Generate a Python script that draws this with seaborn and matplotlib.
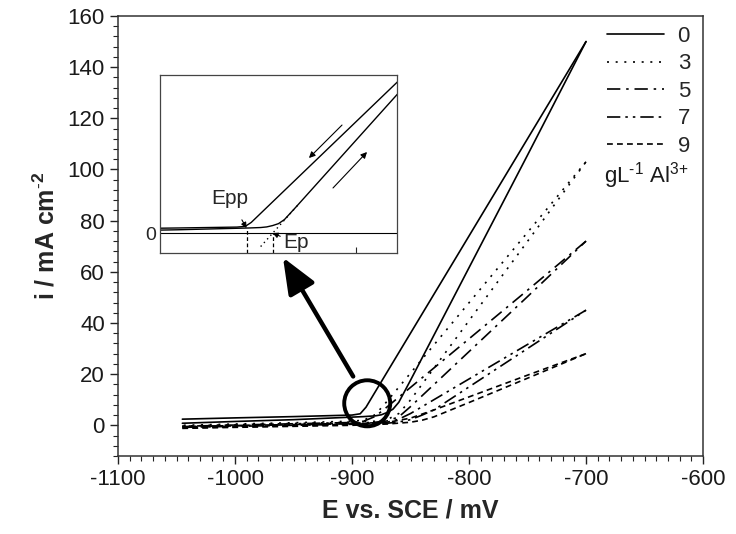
import numpy as np
import matplotlib
matplotlib.use("Agg")
import matplotlib.pyplot as plt
from matplotlib.patches import Ellipse
from matplotlib.lines import Line2D
from matplotlib.ticker import MultipleLocator
import seaborn as sns

sns.set_theme(style="white")
plt.rcParams["font.family"] = ["Liberation Sans", "DejaVu Sans"]
plt.rcParams["mathtext.fontset"] = "custom"
plt.rcParams["mathtext.rm"] = "Liberation Sans"
plt.rcParams["mathtext.bf"] = "Liberation Sans:bold"
plt.rcParams["axes.unicode_minus"] = False

# Al3+ concentration (g/L) of each polarisation loop
concentrations = ["0", "3", "5", "7", "9"]

# Forward (anodic) and reverse sweeps: potential (mV vs SCE) and current density (mA cm-2)
fwd_E_0 = [-1045, -1000, -950, -920, -900, -890, -880, -875, -870, -865, -860, -850, -800, -750, -700]
fwd_i_0 = [0.8, 1.5, 2.2, 2.8, 3.2, 3.4, 3.7, 4.1, 5.0, 6.3, 9.0, 17.6, 61.6, 105.6, 150]
rev_E_0 = [-700, -750, -800, -850, -870, -880, -888, -893, -900, -950, -1000, -1045]
rev_i_0 = [150, 112, 74, 36, 20.8, 13.2, 7.1, 4.5, 4.0, 3.4, 2.9, 2.4]

fwd_E_3 = [-1045, -1000, -950, -900, -880, -870, -860, -850, -840, -800, -750, -700]
fwd_i_3 = [-0.3, 0.2, 0.7, 1.2, 1.6, 2.2, 4.6, 9.9, 16.1, 40.9, 71.9, 103]
rev_E_3 = [-700, -750, -800, -850, -870, -880, -890, -900, -950, -1000, -1045]
rev_i_3 = [103, 75.4, 47.9, 20.4, 9.4, 4.2, 2.0, 1.6, 1.0, 0.5, 0.0]

fwd_E_5 = [-1045, -1000, -950, -900, -880, -870, -860, -850, -840, -800, -750, -700]
fwd_i_5 = [-0.5, -0.1, 0.3, 0.8, 1.2, 1.7, 3.3, 7.3, 11.6, 28.8, 50.3, 72]
rev_E_5 = [-700, -750, -800, -850, -870, -880, -890, -900, -950, -1000, -1045]
rev_i_5 = [72, 52.8, 33.8, 14.8, 7.2, 3.5, 1.6, 1.1, 0.6, 0.1, -0.4]

fwd_E_7 = [-1045, -1000, -950, -900, -870, -860, -850, -840, -830, -800, -750, -700]
fwd_i_7 = [-0.8, -0.4, 0.0, 0.4, 0.8, 1.3, 2.2, 4.0, 6.0, 15.0, 30.0, 45]
rev_E_7 = [-700, -750, -800, -830, -850, -860, -870, -900, -950, -1000, -1045]
rev_i_7 = [45, 31.6, 18.1, 10.0, 4.6, 2.4, 1.2, 0.6, 0.2, -0.2, -0.6]

fwd_E_9 = [-1045, -1000, -950, -900, -870, -850, -840, -830, -800, -750, -700]
fwd_i_9 = [-1.2, -0.8, -0.4, 0.0, 0.5, 1.2, 2.0, 3.3, 8.9, 18.4, 28]
rev_E_9 = [-700, -750, -800, -830, -850, -870, -900, -950, -1000, -1045]
rev_i_9 = [28, 19.6, 11.1, 6.0, 2.8, 1.1, 0.4, -0.2, -0.6, -1.0]

# Characteristic potentials marked in the inset (mV)
E_pp = -892
E_p = -870

loops = {
    "0": (fwd_E_0, fwd_i_0, rev_E_0, rev_i_0),
    "3": (fwd_E_3, fwd_i_3, rev_E_3, rev_i_3),
    "5": (fwd_E_5, fwd_i_5, rev_E_5, rev_i_5),
    "7": (fwd_E_7, fwd_i_7, rev_E_7, rev_i_7),
    "9": (fwd_E_9, fwd_i_9, rev_E_9, rev_i_9),
}
styles = {
    "0": "-",
    "3": (0, (1.2, 4.0)),
    "5": (0, (8, 3.5, 1.5, 3.5)),
    "7": (0, (8, 3, 1.5, 3, 1.5, 3)),
    "9": (0, (3.5, 2.5)),
}

fig = plt.figure(figsize=(7.36, 5.34), dpi=100)
ax = fig.add_axes([118 / 736, 1 - 456 / 534, (703 - 118) / 736, (456 - 16) / 534])

for c in concentrations:
    fE, fi, rE, ri = loops[c]
    for E, cur in ((fE, fi), (rE, ri)):
        sns.lineplot(x=E, y=cur, ax=ax, sort=False, estimator=None, color="black",
                     lw=1.2, linestyle=styles[c])

ax.set_xlim(-1100, -600)
ax.set_ylim(-12, 160)
ax.xaxis.set_major_locator(MultipleLocator(100))
ax.xaxis.set_minor_locator(MultipleLocator(10))
ax.yaxis.set_major_locator(MultipleLocator(20))
ax.yaxis.set_minor_locator(MultipleLocator(4))
ax.tick_params(which="both", direction="out", top=False, right=False, bottom=True, left=True,
               colors="#222222", labelcolor="#1a1a1a", labelsize=16)
ax.tick_params(which="major", length=6, width=1)
ax.tick_params(which="minor", length=3.5, width=0.8)
for s in ax.spines.values():
    s.set_color("#333333")
    s.set_linewidth(1.1)
ax.set_xlabel("E vs. SCE / mV", fontsize=18, fontweight="bold", labelpad=6)
ax.set_ylabel(r"i / mA cm$^{\mathbf{\text{-}2}}$", fontsize=18, fontweight="bold", labelpad=6)

# Highlight of the active-passive transition and pointer to the magnified view
ax.add_patch(Ellipse((-887, 8.6), 39.3, 18.0, fill=False, lw=2.8, color="black", zorder=5))
ax.annotate("", xy=(-959, 65.6), xytext=(-899, 19.1),
            arrowprops=dict(arrowstyle="-|>,head_length=1.1,head_width=0.45", lw=3.2,
                            color="black", mutation_scale=20, shrinkA=0, shrinkB=0))

# Legend
handles = [Line2D([], [], color="black", lw=1.2, linestyle=styles[c]) for c in concentrations]
leg = ax.legend(handles, concentrations, loc="upper right", bbox_to_anchor=(690 / 736, 1 - 26 / 534),
                bbox_transform=fig.transFigure, frameon=False, fontsize=16, handlelength=2.6,
                handletextpad=0.6, labelspacing=0.29, borderaxespad=0, borderpad=0)
fig.text(688 / 736, 1 - 176 / 534, r"gL$^{\text{-}1}$ Al$^{3\text{+}}$", ha="right", va="center",
         fontsize=16, color="#1a1a1a")

# Inset: magnified loop for 0 g/L
axin = fig.add_axes([160 / 736, 1 - 253 / 534, 237 / 736, 178 / 534])
fE, fi, rE, ri = loops["0"]
sns.lineplot(x=fE, y=fi, ax=axin, sort=False, estimator=None, color="black", lw=1.0)
sns.lineplot(x=rE, y=ri, ax=axin, sort=False, estimator=None, color="black", lw=1.0)
axin.set_xlim(-965, -765)
axin.set_ylim(-13.3, 105.5)
axin.axhline(0, color="black", lw=0.8)

# tangent to the linear part of the forward sweep, extrapolated to zero current
lin_E = np.array([e for e in fE if e >= -850])
lin_i = np.array([v for e, v in zip(fE, fi) if e >= -850])
slope, icpt = np.polyfit(lin_E, lin_i, 1)
tan_i = np.array([-9.0, 20.0])
axin.plot((tan_i - icpt) / slope, tan_i, color="black", lw=1.0, linestyle=(0, (1, 2.5)))

i_pp = float(np.interp(E_pp, fE, fi))
axin.plot([E_pp, E_pp], [-13.3, i_pp], color="black", lw=0.9, linestyle=(0, (3, 2)))
axin.plot([E_p, E_p], [-13.3, 0], color="black", lw=0.9, linestyle=(0, (3, 2)))

axin.annotate("Epp", xy=(E_pp, i_pp), xytext=(-906, 23), ha="center", va="center", fontsize=15,
              arrowprops=dict(arrowstyle="-|>", lw=0.8, color="black", mutation_scale=8,
                              shrinkA=7, shrinkB=0))
axin.annotate("Ep", xy=(E_p, 0), xytext=(-850, -6.6), ha="center", va="center", fontsize=15,
              arrowprops=dict(arrowstyle="-|>", lw=0.8, color="black", mutation_scale=8,
                              shrinkA=8, shrinkB=0))
axin.annotate("", xy=(-839.3, 50.1), xytext=(-811.4, 72.1),
              arrowprops=dict(arrowstyle="-|>", lw=0.8, color="black", mutation_scale=9,
                              shrinkA=0, shrinkB=0))
axin.annotate("", xy=(-790.3, 54.1), xytext=(-819.0, 30.1),
              arrowprops=dict(arrowstyle="-|>", lw=0.8, color="black", mutation_scale=9,
                              shrinkA=0, shrinkB=0))

axin.set_xticks([-800])
axin.set_xticklabels([])
axin.set_yticks([0])
axin.set_yticklabels(["0"])
axin.tick_params(axis="x", direction="in", length=4, width=0.8, bottom=True)
axin.tick_params(axis="y", direction="out", length=0, pad=3, labelsize=14, left=True)
for s in axin.spines.values():
    s.set_color("#444444")
    s.set_linewidth(0.9)
axin.set_xlabel("")
axin.set_ylabel("")

fig.savefig("out.png", dpi=100)
